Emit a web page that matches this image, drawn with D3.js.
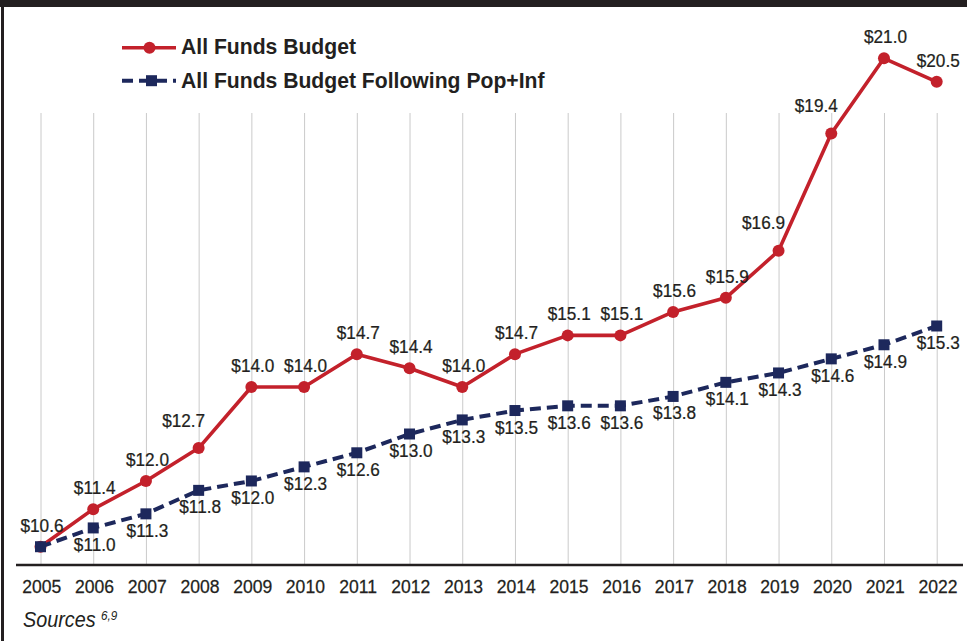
<!DOCTYPE html>
<html>
<head>
<meta charset="utf-8">
<script src="https://cdn.jsdelivr.net/npm/d3@7"></script>
<style>
  html, body { margin: 0; padding: 0; background: #ffffff; }
  svg { display: block; }
</style>
</head>
<body>
<svg id="chart" width="967" height="641"></svg>
<script>
// ---- data ----
const years = ["2005","2006","2007","2008","2009","2010","2011","2012","2013","2014","2015","2016","2017","2018","2019","2020","2021","2022"];
const allFundsBudget = [10.6, 11.4, 12.0, 12.7, 14.0, 14.0, 14.7, 14.4, 14.0, 14.7, 15.1, 15.1, 15.6, 15.9, 16.9, 19.4, 21.0, 20.5];
const popInfBudget = [10.6, 11.0, 11.3, 11.8, 12.0, 12.3, 12.6, 13.0, 13.3, 13.5, 13.6, 13.6, 13.8, 14.1, 14.3, 14.6, 14.9, 15.3];
const seriesNames = ["All Funds Budget", "All Funds Budget Following Pop+Inf"];
const sourceText = "Sources";
const sourceSup = "6,9";

// ---- styles ----
const RED = "#c3212b";
const NAVY = "#1d285c";
const INK = "#231f20";
const GRID = "#cacaca";
const FONT = '"Liberation Sans", Arial, sans-serif';

const svg = d3.select("#chart");
const W = 967, H = 641;

// frame
svg.append("rect").attr("x", 0).attr("y", 0).attr("width", W).attr("height", H).attr("fill", "#fff");
svg.append("rect").attr("x", 0).attr("y", 0).attr("width", W).attr("height", 7).attr("fill", INK);
svg.append("rect").attr("x", 1).attr("y", 0).attr("width", 3).attr("height", H).attr("fill", INK);

// scales
const x = d3.scalePoint().domain(years).range([40.5, 936.7]);
const y = d3.scaleLinear().domain([10.2, 21.0]).range([565.5, 58.3]);
const axisY = 565;
const gridTop = 113;

// gridlines
const grid = svg.append("g").attr("transform", `translate(0,${axisY})`)
  .call(d3.axisBottom(x).tickSize(-(axisY - gridTop)).tickFormat(""));
grid.select(".domain").remove();
grid.selectAll(".tick line").attr("stroke", GRID).attr("stroke-width", 1);

// x axis labels (condensed via horizontal scale)
const xAxis = svg.append("g").attr("transform", `translate(0,${axisY})`)
  .call(d3.axisBottom(x).tickSize(0));
xAxis.select(".domain").remove();
xAxis.selectAll(".tick text")
  .attr("y", 0).attr("dy", 0)
  .attr("transform", "translate(0.8,28.3) scale(0.95,1)")
  .attr("fill", INK)
  .attr("stroke", INK).attr("stroke-width", 0.25)
  .style("font-family", FONT)
  .style("font-size", "18.5px");

// axis baseline
svg.append("line").attr("x1", 16).attr("x2", 963).attr("y1", axisY).attr("y2", axisY)
  .attr("stroke", INK).attr("stroke-width", 2.6);

const redData = years.map((yr, i) => ({ yr, v: allFundsBudget[i], i }));
const blueData = years.map((yr, i) => ({ yr, v: popInfBudget[i], i }));

const line = d3.line().x(d => x(d.yr)).y(d => y(d.v));

// red series
svg.append("path").datum(redData).attr("d", line)
  .attr("fill", "none").attr("stroke", RED).attr("stroke-width", 3.6).attr("stroke-linejoin", "round");
svg.selectAll("circle.red").data(redData).enter().append("circle")
  .attr("class", "red").attr("cx", d => x(d.yr)).attr("cy", d => y(d.v)).attr("r", 6)
  .attr("fill", RED);

// blue series
svg.append("path").datum(blueData).attr("d", line)
  .attr("fill", "none").attr("stroke", NAVY).attr("stroke-width", 4)
  .attr("stroke-dasharray", "11,6");
const SQ = 11;
svg.selectAll("rect.blue").data(blueData).enter().append("rect")
  .attr("class", "blue").attr("x", d => x(d.yr) - SQ / 2).attr("y", d => y(d.v) - SQ / 2)
  .attr("width", SQ).attr("height", SQ).attr("fill", NAVY);

// labels
const fmt = v => "$" + v.toFixed(1);
const LAB_SX = 0.94;
const steep = d => {
  const nxt = allFundsBudget[d.i + 1];
  return nxt !== undefined && nxt - d.v > 1.2;
};
svg.selectAll("text.redlab").data(redData).enter().append("text")
  .attr("class", "redlab")
  .attr("transform", d => {
    const lx = x(d.yr) + (steep(d) ? -15 : 1.5);
    const ly = y(d.v) - (steep(d) ? 21.5 : 15);
    return `translate(${lx},${ly}) scale(${LAB_SX},1)`;
  })
  .attr("text-anchor", "middle")
  .attr("fill", INK).attr("stroke", INK).attr("stroke-width", 0.25)
  .style("font-family", FONT).style("font-size", "18.3px")
  .text(d => fmt(d.v));

svg.selectAll("text.bluelab").data(blueData.slice(1)).enter().append("text")
  .attr("class", "bluelab")
  .attr("transform", d => `translate(${x(d.yr) + 1.5},${y(d.v) + 23}) scale(${LAB_SX},1)`)
  .attr("text-anchor", "middle")
  .attr("fill", INK).attr("stroke", INK).attr("stroke-width", 0.25)
  .style("font-family", FONT).style("font-size", "18.3px")
  .text(d => fmt(d.v));

// legend
const legend = svg.append("g");
const lx1 = 122, lx2 = 176, lmid = 149.5;
legend.append("line").attr("x1", lx1).attr("x2", lx2).attr("y1", 47.7).attr("y2", 47.7)
  .attr("stroke", RED).attr("stroke-width", 3.6);
legend.append("circle").attr("cx", lmid).attr("cy", 47.7).attr("r", 6).attr("fill", RED);
legend.append("line").attr("x1", lx1).attr("x2", lx2).attr("y1", 80.7).attr("y2", 80.7)
  .attr("stroke", NAVY).attr("stroke-width", 4).attr("stroke-dasharray", "11,6");
legend.append("rect").attr("x", lmid + 2 - SQ / 2).attr("y", 80.7 - SQ / 2).attr("width", SQ).attr("height", SQ).attr("fill", NAVY);
legend.selectAll("text").data(seriesNames).enter().append("text")
  .attr("transform", (d, i) => `translate(181,${i === 0 ? 54.3 : 88.3}) scale(0.94,1)`)
  .attr("fill", INK)
  .style("font-family", FONT).style("font-weight", "bold").style("font-size", "22.5px")
  .text(d => d);

// sources
const src = svg.append("text")
  .attr("transform", "translate(23,627) scale(0.9,1)")
  .attr("fill", INK)
  .style("font-family", FONT).style("font-style", "italic").style("font-size", "22px");
src.append("tspan").text(sourceText + " ");
src.append("tspan").attr("dy", -7).style("font-size", "13px").text(sourceSup);
</script>
</body>
</html>
